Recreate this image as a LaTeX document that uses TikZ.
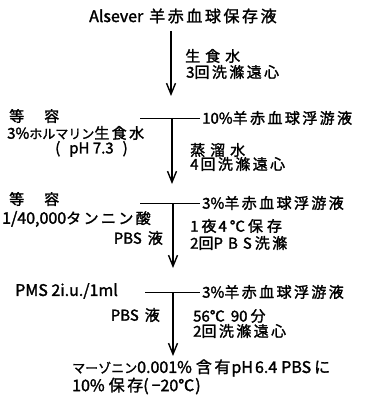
\documentclass[tikz,border=0pt]{standalone}
\usepackage{fontspec}
\setmainfont[FakeBold=1.8]{Noto Sans CJK JP}
\newfontfamily\jpfam[LetterSpace=16,FakeBold=1.6]{Noto Sans CJK JP}
\newfontfamily\kana[FakeBold=1.4]{Noto Sans CJK JP}
\newcommand{\J}[1]{{\jpfam #1}}
\newcommand{\K}[1]{{\kana\fontsize{13}{13}\selectfont #1}}
\newcommand{\gap}[1]{\hspace{#1pt}}
\usetikzlibrary{arrows.meta}
\tikzset{
  lbl/.style={inner sep=0pt, anchor=west, font=\fontsize{15}{15}\selectfont},
  lblr/.style={lbl, anchor=east},
  flow/.style={line width=1.8pt, -{Straight Barb[length=11pt,width=9pt,line width=1.4pt]}},
  tie/.style={line width=0.9pt}
}
\begin{document}
\begin{tikzpicture}[x=1pt,y=-1pt]
\useasboundingbox[fill=white] (0,0) rectangle (368,414);
% texts
\node[lbl, font=\fontsize{16}{16}\selectfont] (t0) at (89,16) {Alsever\gap{6}\J{羊赤血球保存液}};
\node[lbl] (a1) at (185,56) {\J{生\gap{5}食\gap{5}水}};
\node[lbl] (a2) at (186,72) {3\J{回洗滌遠心}};
\node[lbl] (b1) at (9,116) {\J{等\gap{20}容}};
\node[lbl] (b2) at (7,133) {3\%\K{ホルマリン}\J{生食水}};
\node[lbl] (b3) at (55,149) {(\gap{9}pH 7.3\gap{9})};
\node[lbl] (b4) at (202,118) {10\%\J{羊赤血球浮游液}};
\node[lbl] (b5) at (190,150) {\J{蒸\gap{5}溜\gap{5}水}};
\node[lbl] (b6) at (190,164) {4\gap{2}\J{回洗滌遠心}};
\node[lbl] (c1) at (9,199) {\J{等\gap{20}容}};
\node[lbl] (c2) at (2,219) {{\fontsize{16}{16}\selectfont 1/40,000}\J{タンニン酸}};
\node[lblr] (c3) at (163,238) {PBS\gap{6}\J{液}};
\node[lbl] (c4) at (202,203) {3\%\J{羊赤血球浮游液}};
\node[lbl] (c5) at (190,226) {1\gap{3}\J{夜}\gap{2}4\gap{3}°C\gap{3}\J{保\gap{4}存}};
\node[lbl] (c6) at (190,243) {2\J{回}P\gap{5}B\gap{5}S\gap{3}\J{洗滌}};
\node[lbl, font=\fontsize{16}{16}\selectfont] (d1) at (15,291) {PMS 2i.u./1ml};
\node[lblr] (d2) at (160,315) {PBS\gap{6}\J{液}};
\node[lbl] (d3) at (202,292) {3\%\J{羊赤血球浮游液}};
\node[lbl] (d4) at (193,316) {56℃\gap{6}90\gap{3}\J{分}};
\node[lbl] (d5) at (193,331) {2\J{回洗滌遠心}};
\node[lbl, font=\fontsize{16}{16}\selectfont] (e1) at (72,368) {\K{マーゾニン}0.001\%\gap{4}\J{含有}\gap{1}pH\gap{2}6.4\gap{4}PBS\gap{3}\J{に}};
\node[lbl, font=\fontsize{16}{16}\selectfont] (e2) at (72,386) {10\%\gap{4}\J{保存}(\gap{3}−20℃\gap{1})};
% coordinates
\coordinate (s1) at (171,31);
\coordinate (f1) at (171,96);
\coordinate (h2l) at (140,118);
\coordinate (h2r) at (200,118);
\coordinate (s2) at (172,118);
\coordinate (f2) at (172,184);
\coordinate (h3l) at (140,203);
\coordinate (h3r) at (200,203);
\coordinate (s3) at (173,203);
\coordinate (f3) at (173,268);
\coordinate (h4l) at (145,292);
\coordinate (h4r) at (200,292);
\coordinate (s4) at (173,292);
\coordinate (f4) at (173,356);
% connectors
\draw[flow] (s1) -- (f1);
\draw[tie] (h2l) -- (h2r);
\draw[flow] (s2) -- (f2);
\draw[tie] (h3l) -- (h3r);
\draw[flow] (s3) -- (f3);
\draw[tie] (h4l) -- (h4r);
\draw[flow] (s4) -- (f4);
\end{tikzpicture}
\end{document}
